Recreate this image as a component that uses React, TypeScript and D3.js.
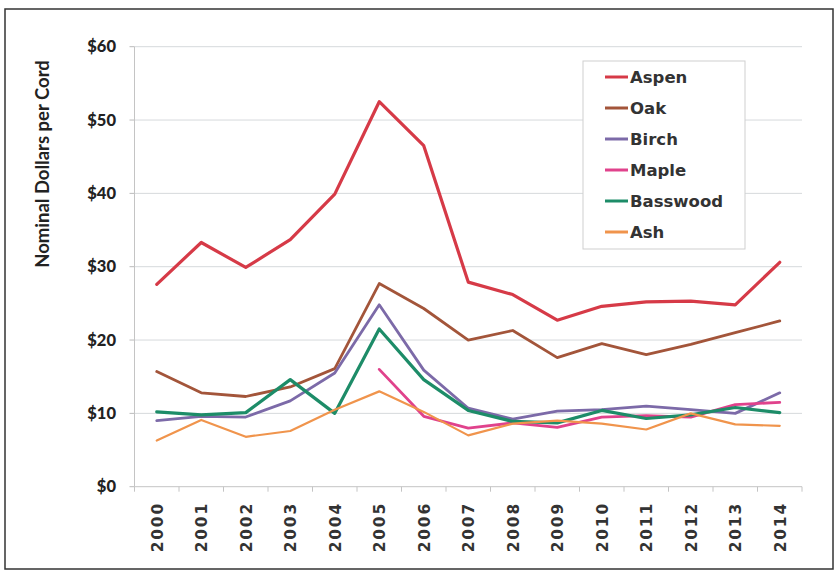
import React from "react";
import * as d3 from "d3";

const years = ["2000","2001","2002","2003","2004","2005","2006","2007","2008","2009","2010","2011","2012","2013","2014"];
const aspen = [27.6, 33.3, 29.9, 33.7, 39.9, 52.5, 46.5, 27.9, 26.2, 22.7, 24.6, 25.2, 25.3, 24.8, 30.6];
const oak = [15.7, 12.8, 12.3, 13.6, 16.1, 27.7, 24.3, 20.0, 21.3, 17.6, 19.5, 18.0, 19.4, 21.0, 22.6];
const birch = [9.0, 9.6, 9.5, 11.7, 15.5, 24.8, 15.9, 10.7, 9.2, 10.3, 10.5, 11.0, 10.5, 10.0, 12.8];
const maple: (number | null)[] = [null, null, null, null, null, 16.0, 9.6, 8.0, 8.7, 8.1, 9.5, 9.7, 9.5, 11.2, 11.5];
const basswood = [10.2, 9.8, 10.1, 14.6, 10.0, 21.5, 14.6, 10.4, 8.9, 8.7, 10.4, 9.3, 9.8, 10.8, 10.1];
const ash = [6.3, 9.1, 6.8, 7.6, 10.5, 13.0, 10.2, 7.0, 8.6, 9.0, 8.6, 7.8, 10.0, 8.5, 8.3];
const yTicks = [0, 10, 20, 30, 40, 50, 60];

const series = [
  { name: "Aspen", values: aspen, color: "#d63a47", width: 3.2 },
  { name: "Oak", values: oak, color: "#a3553a", width: 2.8 },
  { name: "Birch", values: birch, color: "#7c6aa8", width: 2.8 },
  { name: "Maple", values: maple, color: "#e0428c", width: 2.8 },
  { name: "Basswood", values: basswood, color: "#1d8c68", width: 3.2 },
  { name: "Ash", values: ash, color: "#f0944c", width: 2.2 },
];

export default function App() {
  const W = 838, H = 573;
  const left = 134.5, right = 802, top = 46.7, bottom = 486.7;
  const x = d3.scaleBand<string>().domain(years).range([left, right]);
  const y = d3.scaleLinear().domain([0, 60]).range([bottom, top]);
  const cx = (yr: string) => (x(yr) as number) + x.bandwidth() / 2;
  const line = d3.line<number | null>()
    .defined((d) => d !== null)
    .x((_, i) => cx(years[i]))
    .y((d) => y(d as number));

  const legendY0 = 77, legendStep = 31;

  return (
    <svg width={W} height={H} style={{ position: "fixed", left: 0, top: 0, background: "#fff" }}>
      <rect x={5} y={9} width={828} height={560} fill="#fff" stroke="#333" strokeWidth={1.5} />
      {yTicks.map((t) => (
        <g key={t}>
          {t > 0 && <line x1={left} x2={right} y1={y(t)} y2={y(t)} stroke="#d6d9dc" strokeWidth={1} />}
          <line x1={left - 5} x2={left} y1={y(t)} y2={y(t)} stroke="#bbb" />
          <text x={116} y={y(t)} dy="0.35em" textAnchor="end" fontFamily="Lato" fontWeight={900} fontSize={16.5} fill="#222">
            {"$" + t}
          </text>
        </g>
      ))}
      <line x1={left} x2={left} y1={top} y2={bottom} stroke="#c4c4c4" />
      <line x1={left} x2={right} y1={bottom} y2={bottom} stroke="#c4c4c4" />
      {years.map((yr) => (
        <line key={"t" + yr} x1={x(yr) as number} x2={x(yr) as number} y1={bottom} y2={bottom + 5} stroke="#c4c4c4" />
      ))}
      <line x1={right} x2={right} y1={bottom} y2={bottom + 5} stroke="#c4c4c4" />
      {years.map((yr) => (
        <text key={yr} transform={`translate(${cx(yr) + 6},${502}) rotate(-90)`} textAnchor="end"
          fontFamily="DejaVu Sans" fontWeight={700} fontSize={15.5} letterSpacing={1.8} fill="#333">
          {yr}
        </text>
      ))}
      <text transform={`translate(49,164) rotate(-90)`} textAnchor="middle" fontFamily="Lato" fontWeight={700}
        fontSize={18.5} fill="#222">
        Nominal Dollars per Cord
      </text>
      {series.map((s) => (
        <path key={s.name} d={line(s.values) || ""} fill="none" stroke={s.color} strokeWidth={s.width}
          strokeLinejoin="round" strokeLinecap="round" />
      ))}
      <rect x={583} y={61} width={162} height={188} fill="#fff" stroke="#cfcfcf" />
      {series.map((s, i) => (
        <g key={"lg" + s.name}>
          <line x1={605} x2={628} y1={legendY0 + i * legendStep} y2={legendY0 + i * legendStep} stroke={s.color}
            strokeWidth={3} />
          <text x={630} y={legendY0 + i * legendStep} dy="0.36em" fontFamily="DejaVu Sans" fontWeight={700}
            fontSize={16.5} fill="#333">
            {s.name}
          </text>
        </g>
      ))}
    </svg>
  );
}
